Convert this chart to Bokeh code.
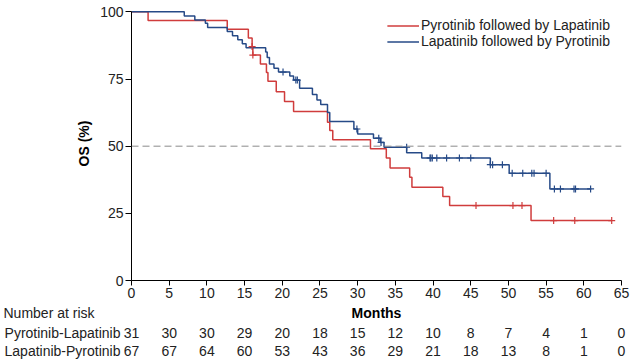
from bokeh.plotting import figure
from bokeh.models import Range1d, Span, ColumnDataSource, FixedTicker
from bokeh.layouts import column
from bokeh.embed import file_html
from bokeh.resources import INLINE
from bokeh.core.properties import value

FONT = "Liberation Sans"

# ---------------- data ----------------
month_ticks = [0, 5, 10, 15, 20, 25, 30, 35, 40, 45, 50, 55, 60, 65]
os_ticks = [0, 25, 50, 75, 100]

red_name = "Pyrotinib followed by Lapatinib"
red_t = [0, 2.2, 12.7, 15.5, 16.0, 16.1, 17.1, 17.9, 18.1, 19.2, 20.3, 21.5,
         26.0, 26.3, 26.7, 31.7, 33.8, 34.3, 36.9, 37.2, 41.3, 42.2, 53.0]
red_s = [100, 96.8, 93.5, 90.3, 87.1, 83.9, 80.6, 77.4, 74.2, 70.3, 66.6, 62.9,
         58.9, 55.8, 52.4, 49.0, 45.6, 41.9, 38.4, 34.7, 31.3, 27.9, 22.3]
red_end = 63.7
red_cens_t = [16.0, 16.1, 45.7, 50.6, 51.8, 56.0, 58.8, 63.7]
red_cens_s = [87.1, 83.9, 27.9, 27.9, 27.9, 22.3, 22.3, 22.3]

blue_name = "Lapatinib followed by Pyrotinib"
blue_t = [0, 7.0, 8.4, 9.8, 10.1, 12.7, 13.4, 14.1, 14.7, 15.2, 17.8, 18.0, 18.3,
          18.9, 19.5, 21.0, 21.5, 22.3, 24.0, 24.6, 25.1, 26.0, 26.3, 29.5, 30.0,
          32.1, 33.0, 33.5, 36.5, 38.5, 47.6, 50.1, 55.5]
blue_s = [100, 98.5, 97.0, 95.8, 94.2, 92.7, 91.1, 89.6, 88.1, 86.6, 85.1, 83.0, 80.6,
          79.0, 77.6, 76.1, 74.6, 71.6, 69.2, 67.2, 65.5, 62.5, 59.2, 56.4, 54.5,
          53.0, 51.4, 49.6, 47.6, 45.6, 43.1, 39.9, 34.1]
blue_end = 61.0
blue_cens_t = [20.1, 21.8, 22.0, 29.9, 32.8, 33.1, 36.5, 39.6, 39.7, 39.9, 40.5, 41.8,
               43.5, 45.0, 47.6, 47.9, 49.2, 50.5, 51.9, 53.1, 53.4, 55.0, 56.1, 56.9,
               58.7, 58.9, 60.9]
blue_cens_s = [77.6, 74.6, 74.6, 56.4, 53.0, 51.4, 49.6, 45.6, 45.6, 45.6, 45.6, 45.6,
               45.6, 45.6, 43.1, 43.1, 43.1, 39.9, 39.9, 39.9, 39.9, 39.9, 34.1, 34.1,
               34.1, 34.1, 34.1]

x_title = "Months"
risk_title = "Number at risk"
risk_groups = ["Pyrotinib-Lapatinib", "Lapatinib-Pyrotinib"]
risk_red = [31, 30, 30, 29, 20, 18, 15, 12, 10, 8, 7, 4, 1, 0]
risk_blue = [67, 67, 64, 60, 53, 43, 36, 29, 21, 18, 13, 8, 1, 0]

# ---------------- layout ----------------
W = 630
H1 = 304            # main plot height
H2 = 59             # risk table height
FL, FR, FT, FB = 131, 9, 6, 24
frame_w = W - FL - FR
X0, X1 = 0, 65
Y0, Y1 = 0, 102
ppm = frame_w / (X1 - X0)

RED = "#d03c3c"
BLUE = "#264a87"
TXT = "#222222"
FS = "14px"

p = figure(width=W, height=H1, x_range=Range1d(X0, X1), y_range=Range1d(Y0, Y1),
           output_backend="svg", toolbar_location=None,
           min_border_left=FL, min_border_right=FR, min_border_top=FT, min_border_bottom=FB)
p.outline_line_color = None
p.xgrid.grid_line_color = None
p.ygrid.grid_line_color = None

for ax in (p.xaxis[0], p.yaxis[0]):
    ax.axis_line_color = "black"
    ax.axis_line_width = 1
    ax.major_tick_line_color = "black"
    ax.major_tick_in = 0
    ax.minor_tick_line_color = None
    ax.major_label_text_font = FONT
    ax.major_label_text_font_size = FS
    ax.major_label_text_color = TXT
    ax.axis_label_text_font = FONT
    ax.axis_label_text_font_size = FS
    ax.axis_label_text_font_style = "bold"
    ax.axis_label_text_color = "black"

p.xaxis.ticker = FixedTicker(ticks=month_ticks)
p.xaxis.major_tick_out = 5
p.xaxis.major_label_standoff = 2

p.yaxis.ticker = FixedTicker(ticks=os_ticks)
p.yaxis.bounds = (0, 100)
p.yaxis.major_tick_out = 6
p.yaxis.major_label_standoff = 2
p.yaxis.axis_label = "OS (%)"
p.yaxis.axis_label_standoff = 5

p.add_layout(Span(location=50, dimension="width", line_color="#8a8a8a",
                  line_dash="7 4", line_width=1))

p.step(x=red_t + [red_end], y=red_s + [red_s[-1]], mode="after",
       line_color=RED, line_width=1.5, legend_label=red_name)
p.step(x=blue_t + [blue_end], y=blue_s + [blue_s[-1]], mode="after",
       line_color=BLUE, line_width=1.5, legend_label=blue_name)
p.scatter(x=red_cens_t, y=red_cens_s, marker="cross", size=7, line_color=RED, line_width=1.2)
p.scatter(x=blue_cens_t, y=blue_cens_s, marker="cross", size=7, line_color=BLUE, line_width=1.2)

lg = p.legend[0]
lg.location = "top_right"
lg.margin = 11
lg.padding = 0
lg.spacing = 0
lg.border_line_color = None
lg.background_fill_alpha = 0
lg.label_text_font = FONT
lg.label_text_font_size = FS
lg.label_text_color = TXT
lg.glyph_width = 32
lg.glyph_height = 13
lg.label_height = 13
lg.label_standoff = 2

# ---------------- number-at-risk table (same month scale, full-width frame) ----------------
t = figure(width=W, height=H2,
           x_range=Range1d(X0 - FL / ppm, X0 + (W - FL) / ppm),
           y_range=Range1d(H2, 0),
           output_backend="svg", toolbar_location=None,
           x_axis_location=None, y_axis_location=None,
           min_border_left=0, min_border_right=0, min_border_top=0, min_border_bottom=0)
t.outline_line_color = None
t.xgrid.grid_line_color = None
t.ygrid.grid_line_color = None

# keep the table's own full-width frame (do not align it with the plot frame above)
for fig in (p, t):
    if "frame_align" in fig.properties():
        fig.frame_align = False

row_title, row_a, row_b = 8.5, 28, 46.5
left_x = X0 - (FL - 3) / ppm
group_x = X0 - 11 / ppm
mid_x = (X0 + X1) / 2

t.text(x=[left_x], y=[row_title], text=[risk_title], text_font=value(FONT),
       text_font_size=value(FS), text_color=TXT, text_align="left", text_baseline="middle")
t.text(x=[mid_x], y=[row_title], text=[x_title], text_font=value(FONT),
       text_font_size=value(FS), text_font_style="bold", text_color="black",
       text_align="center", text_baseline="middle")
t.text(x=[group_x, group_x], y=[row_a, row_b], text=risk_groups, text_font=value(FONT),
       text_font_size=value(FS), text_color=TXT, text_align="right", text_baseline="middle")
for vals, row in ((risk_red, row_a), (risk_blue, row_b)):
    src = ColumnDataSource(dict(x=month_ticks, y=[row] * len(month_ticks),
                                s=[str(v) for v in vals]))
    t.text(x="x", y="y", text="s", source=src, text_font=value(FONT),
           text_font_size=value(FS), text_color=TXT, text_align="center",
           text_baseline="middle")

layout = column(p, t, spacing=0)
open("out.html", "w").write(file_html(layout, INLINE))
